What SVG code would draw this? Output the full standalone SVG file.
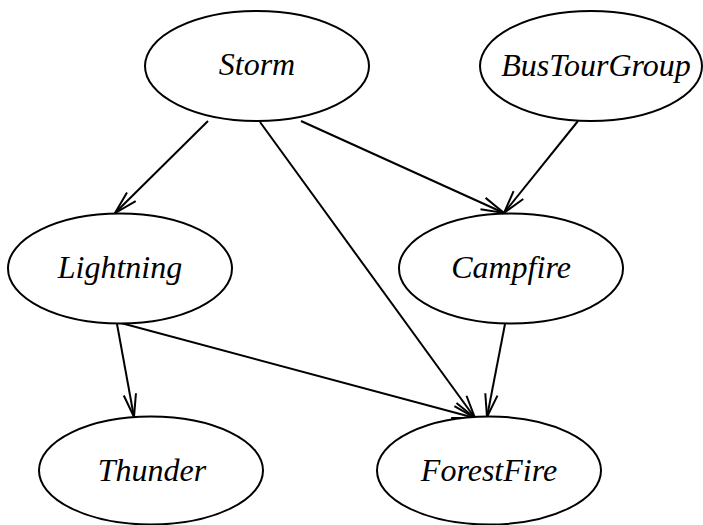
<svg xmlns="http://www.w3.org/2000/svg" width="703" height="525" viewBox="0 0 703 525">
<style>
.node ellipse{fill:#fff;stroke:#000;stroke-width:2}
.node text{font-family:"Liberation Serif","Times New Roman",serif;font-style:italic;font-size:32px;fill:#000;text-anchor:middle}
.edge{stroke:#000;stroke-width:2;fill:none;marker-end:url(#arr)}
</style>
<defs>
<marker id="arr" markerUnits="userSpaceOnUse" markerWidth="30" markerHeight="20" viewBox="-26 -10 30 20" refX="0" refY="0" orient="auto" overflow="visible">
<path d="M-23,-6.2 L0,0 L-23,6.2" fill="none" stroke="#000" stroke-width="2"/>
</marker>
</defs>
<rect width="703" height="525" fill="#fff"/>
<g id="connectors">
<line class="edge" x1="208" y1="121" x2="115" y2="213"/>
<line class="edge" x1="260" y1="122" x2="475" y2="418"/>
<line class="edge" x1="301" y1="121" x2="504" y2="213"/>
<line class="edge" x1="578" y1="121" x2="504" y2="213"/>
<line class="edge" x1="117" y1="324" x2="134" y2="417"/>
<line class="edge" x1="121" y1="323" x2="475" y2="418"/>
<line class="edge" x1="505" y1="324" x2="487" y2="417"/>
</g>
<g id="Storm" class="node"><ellipse cx="257" cy="66" rx="112" ry="55"/><text x="257" y="75">Storm</text></g>
<g id="BusTourGroup" class="node"><ellipse cx="591" cy="66" rx="111" ry="55"/><text x="596" y="76">BusTourGroup</text></g>
<g id="Lightning" class="node"><ellipse cx="120" cy="268.5" rx="112" ry="55"/><text x="120" y="278">Lightning</text></g>
<g id="Campfire" class="node"><ellipse cx="511" cy="268.5" rx="112" ry="55"/><text x="511" y="278">Campfire</text></g>
<g id="Thunder" class="node"><ellipse cx="151" cy="470.5" rx="112" ry="54"/><text x="152" y="481">Thunder</text></g>
<g id="ForestFire" class="node"><ellipse cx="489" cy="470.5" rx="112" ry="54"/><text x="489" y="481">ForestFire</text></g>
</svg>
